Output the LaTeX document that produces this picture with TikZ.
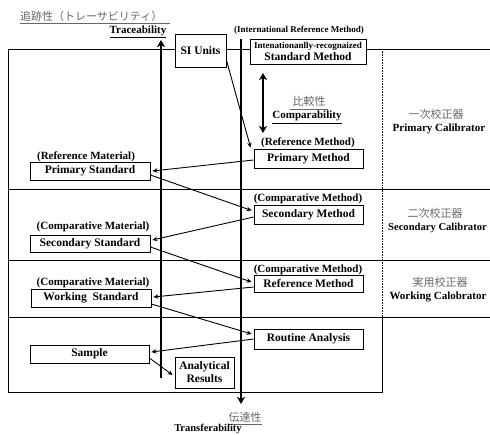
\documentclass[tikz,border=0pt]{standalone}
\usepackage{fontspec}
\setmainfont{Liberation Serif}
\newfontfamily\jp{Noto Sans CJK JP}
\usetikzlibrary{arrows.meta}
\tikzset{
  box/.style={draw, line width=0.8pt, fill=white, inner sep=1pt, font=\fontsize{11.5}{13}\selectfont\bfseries},
  lbl/.style={inner sep=0pt, font=\fontsize{11}{13}\selectfont\bfseries},
  jtxt/.style={inner sep=0pt, text=black!60, font=\fontsize{11}{13}\selectfont\jp},
  grid/.style={line width=0.7pt},
  thin/.style={line width=0.9pt, -{Stealth[length=5pt,width=4.5pt]}},
  thick/.style={line width=2.6pt, -{Stealth[length=7pt,width=8pt,inset=2pt]}},
  uline/.style={line width=0.6pt}
}
\begin{document}
\begin{tikzpicture}[x=1pt,y=-1pt]
\useasboundingbox (0,0) rectangle (490,434);
% frame
\draw[grid] (8,49) -- (490,49);
\draw[grid] (8,49) -- (8,392) -- (382,392) -- (382,317);
\draw[grid] (8,189) -- (490,189);
\draw[grid] (8,260) -- (490,260);
\draw[grid] (8,317) -- (490,317);
\draw[line width=0.6pt, densely dotted] (382,49) -- (382,317);
% titles
\node[jtxt, anchor=west] (jtrace) at (20,16) {追跡性（トレーサビリティ）};
\draw[uline, black!60] (20,23) -- (170,23);
\node[lbl, font=\fontsize{11}{13}\selectfont\bfseries] (trace) at (138,31) {Traceability};
\draw[uline] (110,37) -- (166,37);
\node[lbl, font=\fontsize{9}{11}\selectfont\bfseries] (irm) at (299,30) {(International Reference Method)};
% top boxes
\node[box, minimum width=51pt, minimum height=33pt] (si) at (200.5,50.5) {SI Units};
\node[box, minimum width=116pt, minimum height=25pt, align=center, inner sep=0.5pt] (std) at (308,51.5)
  {{\fontsize{9}{9}\selectfont Intenationanlly-recognaized}\\[-0.5pt]{\fontsize{11.5}{12}\selectfont Standard Method}};
% comparability
\node[jtxt] (jcomp) at (309,101) {比較性};
\draw[uline, black!60] (290,109) -- (328,109);
\node[lbl] (comp) at (307,115.5) {Comparability};
\draw[uline] (272,123) -- (342,123);
% calibrators
\node[jtxt] (j1) at (436,114) {一次校正器};
\node[lbl] (c1) at (439,129) {Primary Calibrator};
\node[jtxt] (j2) at (435,213) {二次校正器};
\node[lbl, font=\fontsize{10.6}{12}\selectfont\bfseries] (c2) at (437.5,228) {Secondary Calibrator};
\node[jtxt] (j3) at (440,282) {実用校正器};
\node[lbl] (c3) at (438,297) {Working Calobrator};
% left boxes
\node[lbl] (l1) at (86,157) {(Reference Material)};
\node[box, minimum width=120pt, minimum height=18pt] (ps) at (90,171) {Primary Standard};
\node[lbl] (l2) at (93,227) {(Comparative Material)};
\node[box, minimum width=120pt, minimum height=17pt] (ss) at (90,243.5) {Secondary Standard};
\node[lbl] (l3) at (93,283) {(Comparative Material)};
\node[box, minimum width=120pt, minimum height=18pt] (ws) at (91,298) {Working\ \ Standard};
\node[box, minimum width=119pt, minimum height=18pt] (sa) at (89.5,354) {Sample};
\node[box, minimum width=59pt, minimum height=31pt, align=center, inner sep=0.5pt, font=\fontsize{11.5}{13}\selectfont\bfseries] (ar) at (204.5,372.5) {Analytical\\Results};
% right boxes
\node[lbl] (r1) at (308,143) {(Reference Method)};
\node[box, minimum width=109pt, minimum height=19pt] (pm) at (308.5,158.5) {Primary Method};
\node[lbl] (r2) at (308,199) {(Comparative Method)};
\node[box, minimum width=109pt, minimum height=19pt] (sm) at (308.5,214.5) {Secondary Method};
\node[lbl] (r3) at (308,270) {(Comparative Method)};
\node[box, minimum width=109pt, minimum height=17pt] (rm) at (308.5,283.5) {Reference Method};
\node[box, minimum width=109pt, minimum height=20pt] (ra) at (308.5,339) {Routine Analysis};
% bottom
\node[jtxt] (jtrans) at (245,417) {伝達性};
\draw[uline, black!60] (228,424) -- (262,424);
\node[lbl, font=\fontsize{10.5}{12}\selectfont\bfseries] (trans) at (208,429) {Transferability};
% thick arrows
\coordinate (tb) at (161,378);
\coordinate (tt) at (161,40);
\coordinate (fb) at (241,404);
\coordinate (ft) at (241,39);
\coordinate (cb) at (263,133);
\coordinate (ct) at (263,73);
\draw[thick] (tb) -- (tt);
\draw[thick] (ft) -- (fb);
\draw[thick, {Stealth[length=7pt,width=8pt,inset=2pt]}-{Stealth[length=7pt,width=8pt,inset=2pt]}] (cb) -- (ct);
% thin arrows
\draw[thin] ([yshift=-9.5pt]si.east) -- ([xshift=-3pt,yshift=1pt]pm.north west);
\draw[thin] ([yshift=-1.5pt]pm.west) -- ([xshift=2pt]ps.east);
\draw[thin] ([yshift=-4pt]ps.east) -- ([xshift=-2pt,yshift=4pt]sm.west);
\draw[thin] ([yshift=-2.5pt]sm.west) -- ([xshift=2pt,yshift=3.5pt]ss.east);
\draw[thin] ([yshift=-3.5pt]ss.east) -- ([xshift=-2pt,yshift=1.5pt]rm.west);
\draw[thin] ([yshift=-3.5pt]rm.west) -- ([xshift=2pt,yshift=1pt]ws.east);
\draw[thin] ([yshift=-6pt]ws.east) -- ([xshift=-2pt,yshift=5pt]ra.west);
\draw[thin] (ra.west) -- ([xshift=2pt,yshift=2pt]sa.east);
\draw[thin] ([yshift=-4pt]sa.east) -- ([xshift=-2pt,yshift=-2.5pt]ar.west);
\end{tikzpicture}
\end{document}
